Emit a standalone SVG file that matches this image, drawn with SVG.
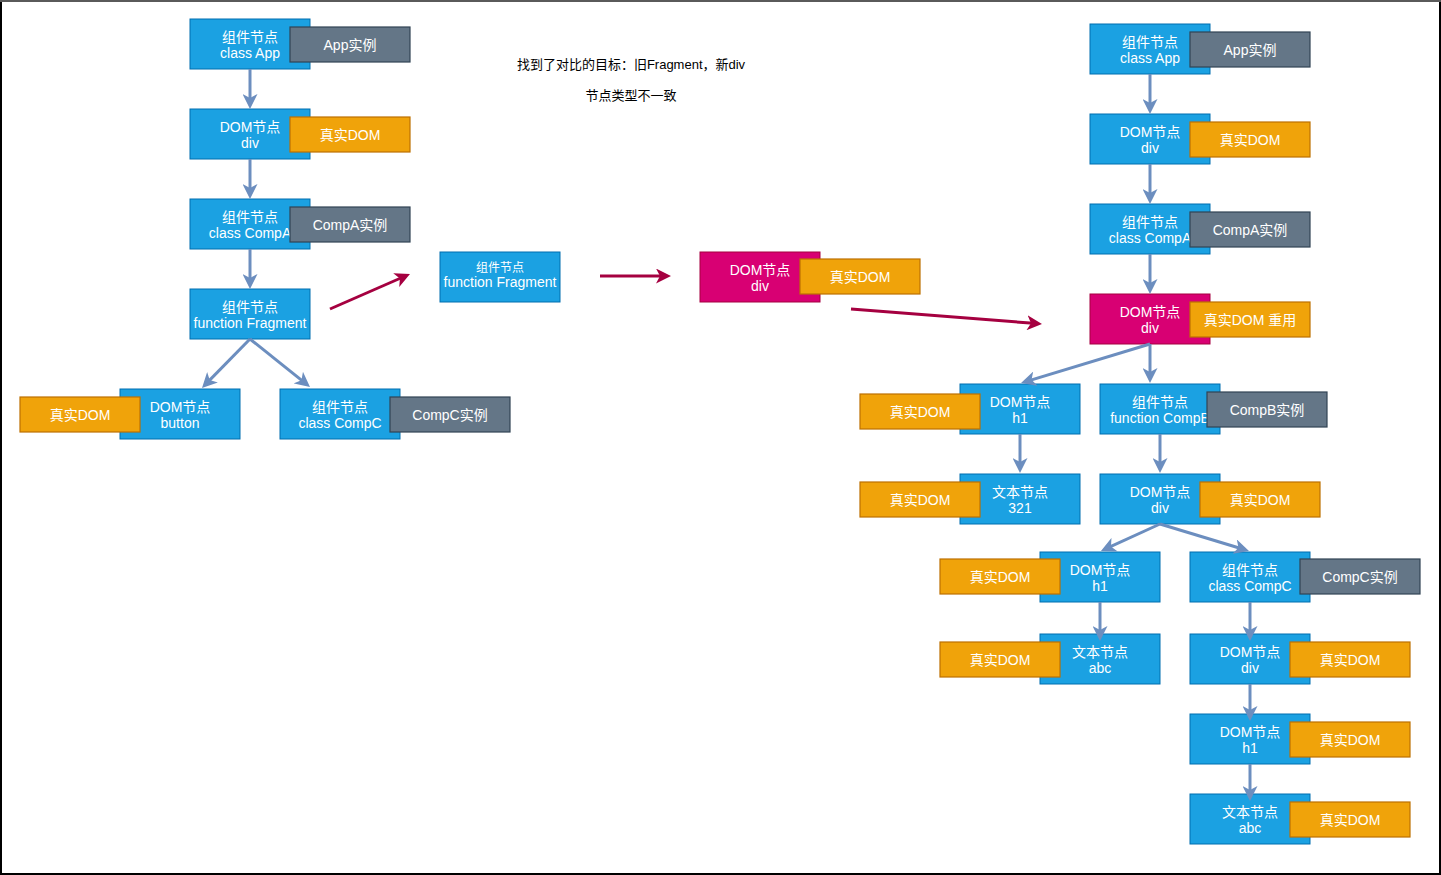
<svg xmlns="http://www.w3.org/2000/svg" width="1441" height="875" viewBox="0 0 1441 875">
<style>
  text { font-family: "Liberation Sans", "Noto Sans CJK SC", sans-serif; font-size: 14px; text-anchor: middle; fill: #ffffff; }
  .note { fill: #000000; font-size: 13px; }
  .small { font-size: 12px; }
  .blue { fill: #1ba1e2; stroke: #006eaf; stroke-width: 1; }
  .mag { fill: #d80073; stroke: #a50040; stroke-width: 1; }
  .gray { fill: #647687; stroke: #314354; stroke-width: 1.2; }
  .org { fill: #f0a30a; stroke: #bd7000; stroke-width: 1.2; }
  .edge { fill: none; stroke: #6c8ebf; stroke-width: 3; marker-end: url(#ab); }
  .redge { fill: none; stroke: #a50040; stroke-width: 3; marker-end: url(#ar); }
</style>
<defs>
  <marker id="ab" markerUnits="userSpaceOnUse" viewBox="-10 -7.5 15 15" refX="0" refY="0" markerWidth="15" markerHeight="15" orient="auto">
    <path d="M5,0 L-10,-7.5 L-6,0 L-10,7.5 Z" fill="#6c8ebf"/>
  </marker>
  <marker id="ar" markerUnits="userSpaceOnUse" viewBox="-10 -7.5 15 15" refX="0" refY="0" markerWidth="15" markerHeight="15" orient="auto">
    <path d="M5,0 L-10,-7.5 L-6,0 L-10,7.5 Z" fill="#a50040"/>
  </marker>
</defs>
<rect x="0" y="0" width="1441" height="875" fill="#ffffff"/>
<rect x="1" y="1" width="1439" height="873" fill="none" stroke="#000000" stroke-width="2"/>
<line x1="0" y1="1" x2="1441" y2="1" stroke="#5a5a5a" stroke-width="2"/>

<g id="notes">
  <text class="note" x="631" y="69">找到了对比的目标：旧Fragment，新div</text>
  <text class="note" x="631" y="100">节点类型不一致</text>
</g>

<!-- Left tree -->
<g id="l-app">
  <rect class="blue" x="190" y="19" width="120" height="50"/>
  <text x="250" y="41.5">组件节点</text><text x="250" y="58">class App</text>
  <rect class="gray" x="290" y="27" width="120" height="35"/>
  <text x="350" y="49.5">App实例</text>
</g>
<g id="l-div">
  <rect class="blue" x="190" y="109" width="120" height="50"/>
  <text x="250" y="131.5">DOM节点</text><text x="250" y="148">div</text>
  <rect class="org" x="290" y="117" width="120" height="35"/>
  <text x="350" y="139.5">真实DOM</text>
</g>
<g id="l-compa">
  <rect class="blue" x="190" y="199" width="120" height="50"/>
  <text x="250" y="221.5">组件节点</text><text x="250" y="238">class CompA</text>
  <rect class="gray" x="290" y="207" width="120" height="35"/>
  <text x="350" y="229.5">CompA实例</text>
</g>
<g id="l-fragment">
  <rect class="blue" x="190" y="289" width="120" height="50"/>
  <text x="250" y="311.5">组件节点</text><text x="250" y="328">function Fragment</text>
</g>
<g id="l-button">
  <rect class="blue" x="120" y="389" width="120" height="50"/>
  <text x="180" y="411.5">DOM节点</text><text x="180" y="428">button</text>
  <rect class="org" x="20" y="397" width="120" height="35"/>
  <text x="80" y="419.5">真实DOM</text>
</g>
<g id="l-compc">
  <rect class="blue" x="280" y="389" width="120" height="50"/>
  <text x="340" y="411.5">组件节点</text><text x="340" y="428">class CompC</text>
  <rect class="gray" x="390" y="397" width="120" height="35"/>
  <text x="450" y="419.5">CompC实例</text>
</g>

<!-- Middle -->
<g id="m-fragment">
  <rect class="blue" x="440" y="252" width="120" height="50"/>
  <text class="small" x="500" y="272">组件节点</text><text x="500" y="287">function Fragment</text>
</g>
<g id="m-div">
  <rect class="mag" x="700" y="252" width="120" height="50"/>
  <text x="760" y="274.5">DOM节点</text><text x="760" y="291">div</text>
  <rect class="org" x="800" y="259" width="120" height="35"/>
  <text x="860" y="281.5">真实DOM</text>
</g>

<!-- Right tree -->
<g id="r-app">
  <rect class="blue" x="1090" y="24" width="120" height="50"/>
  <text x="1150" y="46.5">组件节点</text><text x="1150" y="63">class App</text>
  <rect class="gray" x="1190" y="32" width="120" height="35"/>
  <text x="1250" y="54.5">App实例</text>
</g>
<g id="r-div">
  <rect class="blue" x="1090" y="114" width="120" height="50"/>
  <text x="1150" y="136.5">DOM节点</text><text x="1150" y="153">div</text>
  <rect class="org" x="1190" y="122" width="120" height="35"/>
  <text x="1250" y="144.5">真实DOM</text>
</g>
<g id="r-compa">
  <rect class="blue" x="1090" y="204" width="120" height="50"/>
  <text x="1150" y="226.5">组件节点</text><text x="1150" y="243">class CompA</text>
  <rect class="gray" x="1190" y="212" width="120" height="35"/>
  <text x="1250" y="234.5">CompA实例</text>
</g>
<g id="r-div2">
  <rect class="mag" x="1090" y="294" width="120" height="50"/>
  <text x="1150" y="316.5">DOM节点</text><text x="1150" y="333">div</text>
  <rect class="org" x="1190" y="302" width="120" height="35"/>
  <text x="1250" y="324.5">真实DOM 重用</text>
</g>
<g id="r-h1">
  <rect class="blue" x="960" y="384" width="120" height="50"/>
  <text x="1020" y="406.5">DOM节点</text><text x="1020" y="423">h1</text>
  <rect class="org" x="860" y="394" width="120" height="35"/>
  <text x="920" y="416.5">真实DOM</text>
</g>
<g id="r-compb">
  <rect class="blue" x="1100" y="384" width="120" height="50"/>
  <text x="1160" y="406.5">组件节点</text><text x="1160" y="423">function CompB</text>
  <rect class="gray" x="1207" y="392" width="120" height="35"/>
  <text x="1267" y="414.5">CompB实例</text>
</g>
<g id="r-text321">
  <rect class="blue" x="960" y="474" width="120" height="50"/>
  <text x="1020" y="496.5">文本节点</text><text x="1020" y="513">321</text>
  <rect class="org" x="860" y="482" width="120" height="35"/>
  <text x="920" y="504.5">真实DOM</text>
</g>
<g id="r-div3">
  <rect class="blue" x="1100" y="474" width="120" height="50"/>
  <text x="1160" y="496.5">DOM节点</text><text x="1160" y="513">div</text>
  <rect class="org" x="1200" y="482" width="120" height="35"/>
  <text x="1260" y="504.5">真实DOM</text>
</g>
<g id="r-h1b">
  <rect class="blue" x="1040" y="552" width="120" height="50"/>
  <text x="1100" y="574.5">DOM节点</text><text x="1100" y="591">h1</text>
  <rect class="org" x="940" y="559" width="120" height="35"/>
  <text x="1000" y="581.5">真实DOM</text>
</g>
<g id="r-textabc">
  <rect class="blue" x="1040" y="634" width="120" height="50"/>
  <text x="1100" y="656.5">文本节点</text><text x="1100" y="673">abc</text>
  <rect class="org" x="940" y="642" width="120" height="35"/>
  <text x="1000" y="664.5">真实DOM</text>
</g>
<g id="r-compc">
  <rect class="blue" x="1190" y="552" width="120" height="50"/>
  <text x="1250" y="574.5">组件节点</text><text x="1250" y="591">class CompC</text>
  <rect class="gray" x="1300" y="559" width="120" height="35"/>
  <text x="1360" y="581.5">CompC实例</text>
</g>
<g id="r-div4">
  <rect class="blue" x="1190" y="634" width="120" height="50"/>
  <text x="1250" y="656.5">DOM节点</text><text x="1250" y="673">div</text>
  <rect class="org" x="1290" y="642" width="120" height="35"/>
  <text x="1350" y="664.5">真实DOM</text>
</g>
<g id="r-h1c">
  <rect class="blue" x="1190" y="714" width="120" height="50"/>
  <text x="1250" y="736.5">DOM节点</text><text x="1250" y="753">h1</text>
  <rect class="org" x="1290" y="722" width="120" height="35"/>
  <text x="1350" y="744.5">真实DOM</text>
</g>
<g id="r-textabc2">
  <rect class="blue" x="1190" y="794" width="120" height="50"/>
  <text x="1250" y="816.5">文本节点</text><text x="1250" y="833">abc</text>
  <rect class="org" x="1290" y="802" width="120" height="35"/>
  <text x="1350" y="824.5">真实DOM</text>
</g>

<g id="connectors">
  <path class="edge" d="M250,69 L250,104"/>
  <path class="edge" d="M250,159 L250,194"/>
  <path class="edge" d="M250,249 L250,284"/>
  <path class="edge" d="M250,339 L205.5,384.4"/>
  <path class="edge" d="M250,339 L306.1,383.9"/>
  <path class="edge" d="M1150,74 L1150,109"/>
  <path class="edge" d="M1150,164 L1150,199"/>
  <path class="edge" d="M1150,254 L1150,289"/>
  <path class="edge" d="M1150,344 L1025.8,381.6"/>
  <path class="edge" d="M1150,344 L1150,378"/>
  <path class="edge" d="M1020,434 L1020,468"/>
  <path class="edge" d="M1160,434 L1160,468"/>
  <path class="edge" d="M1160,524 L1105.5,548.9"/>
  <path class="edge" d="M1160,524 L1244.2,549.5"/>
  <path class="edge" d="M1100,602 L1100,636"/>
  <path class="edge" d="M1250,602 L1250,636"/>
  <path class="edge" d="M1250,684 L1250,716"/>
  <path class="edge" d="M1250,764 L1250,796"/>
  <path class="redge" d="M330,309 L405.4,276"/>
  <path class="redge" d="M600,276 L666,276"/>
  <path class="redge" d="M851,309 L1037,323.6"/>
</g>
</svg>
